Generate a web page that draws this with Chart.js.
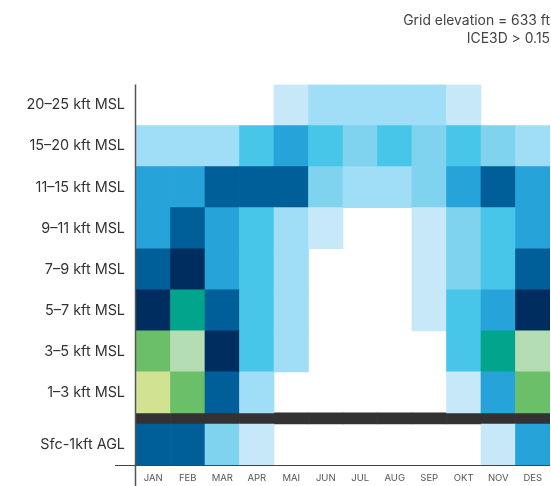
<!DOCTYPE html>
<html>
<head>
<meta charset="utf-8">
<script src="https://cdn.jsdelivr.net/npm/chart.js@4/dist/chart.umd.min.js"></script>
<style>
  html, body { margin: 0; padding: 0; background: #ffffff; }
  #wrap { width: 551px; height: 486px; position: relative; }
</style>
</head>
<body>
<div id="wrap"><canvas id="c"></canvas></div>
<script>
// Months along the x axis
const months = ['JAN', 'FEB', 'MAR', 'APR', 'MAI', 'JUN', 'JUL', 'AUG', 'SEP', 'OKT', 'NOV', 'DES'];

// Altitude bands, bottom to top
const rowLabels = ['Sfc-1kft AGL', '1–3 kft MSL', '3–5 kft MSL', '5–7 kft MSL', '7–9 kft MSL',
                   '9–11 kft MSL', '11–15 kft MSL', '15–20 kft MSL', '20–25 kft MSL'];

// Icing class per month for each altitude band (0 = none)
const sfc_1    = [6, 6, 3, 1, 0, 0, 0, 0, 0, 0, 1, 5];
const kft_1_3  = [11, 10, 6, 2, 0, 0, 0, 0, 0, 1, 5, 10];
const kft_3_5  = [10, 9, 7, 4, 2, 0, 0, 0, 0, 4, 8, 9];
const kft_5_7  = [7, 8, 6, 4, 2, 0, 0, 0, 1, 4, 5, 7];
const kft_7_9  = [6, 7, 5, 4, 2, 0, 0, 0, 1, 3, 4, 6];
const kft_9_11 = [5, 6, 5, 4, 2, 1, 0, 0, 1, 3, 4, 5];
const kft_11_15 = [5, 5, 6, 6, 6, 3, 2, 2, 3, 5, 6, 5];
const kft_15_20 = [2, 2, 2, 4, 5, 4, 3, 4, 3, 4, 3, 2];
const kft_20_25 = [0, 0, 0, 0, 1, 2, 2, 2, 2, 1, 0, 0];

const rows = [sfc_1, kft_1_3, kft_3_5, kft_5_7, kft_7_9, kft_9_11, kft_11_15, kft_15_20, kft_20_25];

// Colour for each class
const classColors = ['rgba(0,0,0,0)', '#c7e8f8', '#a0ddf7', '#80d3ee', '#47c6ea', '#26a3d9',
                     '#005e98', '#002d5f', '#02a58b', '#b5ddb3', '#6bbf68', '#d1e293'];

// Vertical extent of each band on the y scale; a thin separator sits above the surface band
const GAP = 0.27;
function rowLow(i) { return i === 0 ? 0 : i + GAP; }
function rowHigh(i) { return rowLow(i) + 1; }
const yMax = rowHigh(rows.length - 1);

const datasets = rows.map((vals, i) => ({
  label: rowLabels[i],
  data: vals.map(() => [rowLow(i), rowHigh(i)]),
  backgroundColor: vals.map(v => classColors[v]),
  borderWidth: 0,
  grouped: false,
  barPercentage: 1,
  categoryPercentage: 1
}));

// Dark separator between surface band and MSL bands
datasets.push({
  label: 'sep',
  data: months.map(() => [1, 1 + GAP]),
  backgroundColor: '#333132',
  borderWidth: 0,
  grouped: false,
  barPercentage: 1,
  categoryPercentage: 1
});

// Axis lines: y line runs down past the month labels, x line starts left of the y axis
const axisLines = {
  id: 'axisLines',
  afterDatasetsDraw(chart) {
    const { ctx, chartArea } = chart;
    ctx.save();
    ctx.strokeStyle = '#555555';
    ctx.lineWidth = 1.5;
    ctx.beginPath();
    ctx.moveTo(chartArea.left - 0.5, chartArea.top);
    ctx.lineTo(chartArea.left - 0.5, chart.height);
    ctx.stroke();
    ctx.strokeStyle = '#444444';
    ctx.lineWidth = 1.2;
    ctx.beginPath();
    ctx.moveTo(chartArea.left - 21, chartArea.bottom + 0.5);
    ctx.lineTo(chartArea.right, chartArea.bottom + 0.5);
    ctx.stroke();
    ctx.restore();
  }
};

new Chart(document.getElementById('c'), {
  type: 'bar',
  data: { labels: months, datasets },
  plugins: [axisLines],
  options: {
    responsive: true,
    maintainAspectRatio: false,
    animation: false,
    layout: { padding: { top: 0, right: 1, left: 0, bottom: 0 } },
    plugins: {
      legend: { display: false },
      tooltip: { enabled: false },
      title: {
        display: true,
        text: ['Grid elevation = 633 ft', 'ICE3D > 0.15'],
        align: 'end',
        color: '#444444',
        font: { family: 'Inter', size: 13.9, weight: 'normal', lineHeight: 1.28 },
        padding: { top: 12, bottom: 37 }
      }
    },
    scales: {
      x: {
        grid: { display: false, drawTicks: false },
        border: { display: false },
        ticks: { color: '#555555', font: { family: 'Inter', size: 9.5 }, padding: 7, maxRotation: 0 },
        afterFit(s) { s.height = 21; }
      },
      y: {
        type: 'linear',
        min: 0,
        max: yMax,
        grid: { display: false, drawTicks: false },
        border: { display: false },
        afterBuildTicks(s) { s.ticks = rows.map((_, i) => ({ value: (rowLow(i) + rowHigh(i)) / 2 })); },
        ticks: {
          color: '#333333',
          font: { family: 'Inter', size: 14.4 },
          padding: 11,
          callback(value, index) { return rowLabels[index]; }
        },
        afterFit(s) { s.width = 136; }
      }
    }
  }
});
</script>
</body>
</html>
